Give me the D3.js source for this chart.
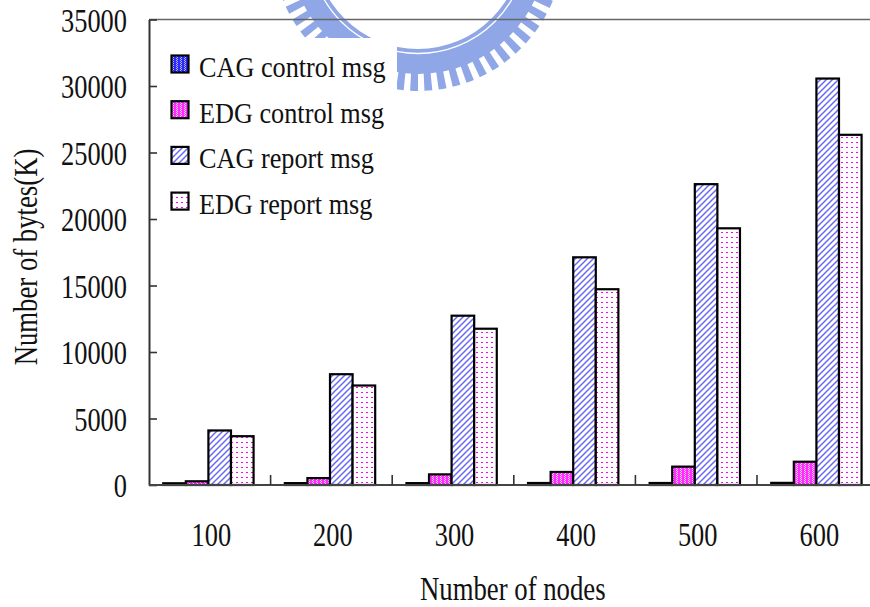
<!DOCTYPE html>
<html>
<head>
<meta charset="utf-8">
<script src="https://cdn.jsdelivr.net/npm/d3@7"></script>
<style>
  html, body { margin: 0; padding: 0; background: #fff; }
  svg { display: block; }
  svg text { font-family: "Liberation Serif", "Times New Roman", serif; fill: #111; }
  pattern rect { shape-rendering: crispEdges; }
</style>
</head>
<body>
<svg id="chart" width="870" height="607"></svg>
<script>
// Message volume per network size
const categories = ["100", "200", "300", "400", "500", "600"];
const seriesNames = ["CAG control msg", "EDG control msg", "CAG report msg", "EDG report msg"];
const cagControl = [130, 140, 140, 150, 150, 160];
const edgControl = [280, 520, 800, 980, 1380, 1750];
const cagReport  = [4100, 8330, 12730, 17120, 22620, 30560];
const edgReport  = [3670, 7480, 11750, 14720, 19300, 26330];
const yTicks = [0, 5000, 10000, 15000, 20000, 25000, 30000, 35000];
const xTitle = "Number of nodes";
const yTitle = "Number of bytes(K)";

const seriesValues = [cagControl, edgControl, cagReport, edgReport];
const patternIds = ["pCagCtrl", "pEdgCtrl", "pCagRep", "pEdgRep"];
const serif = '"Liberation Serif", "Times New Roman", serif';

const svg = d3.select("#chart");
const W = 870;

// ---- fill patterns ----
const defs = svg.append("defs");
// fine checker: base colour with a lighter pixel in every other cell
function checker(id, base, speck) {
  const p = defs.append("pattern").attr("id", id).attr("patternUnits", "userSpaceOnUse")
    .attr("width", 4).attr("height", 4);
  p.append("rect").attr("width", 4).attr("height", 4).attr("fill", base);
  [[0, 0], [2, 0], [1, 1], [3, 1], [0, 2], [2, 2], [1, 3], [3, 3]].forEach(([cx, cy], k) => {
    if (k % 2 === 0) p.append("rect").attr("x", cx).attr("y", cy).attr("width", 1).attr("height", 1).attr("fill", speck);
  });
}
checker("pCagCtrl", "#2a2aff", "#b8b8ff");
checker("pEdgCtrl", "#ff2cff", "#ffd0ff");
{
  const p = defs.append("pattern").attr("id", "pCagRep").attr("patternUnits", "userSpaceOnUse")
    .attr("width", 6).attr("height", 6);
  p.append("rect").attr("width", 6).attr("height", 6).attr("fill", "#fff");
  p.append("path").attr("d", "M-1,7 L7,-1 M-4,4 L4,-4 M2,10 L10,2")
    .attr("stroke", "#6a6af4").attr("stroke-width", 1.5).attr("fill", "none");
}
{
  const p = defs.append("pattern").attr("id", "pEdgRep").attr("patternUnits", "userSpaceOnUse")
    .attr("width", 5).attr("height", 5);
  p.append("rect").attr("width", 5).attr("height", 5).attr("fill", "#fff");
  p.append("rect").attr("x", 1).attr("y", 2).attr("width", 2).attr("height", 1).attr("fill", "#ff00ff");
}

// ---- faint seal printed behind the chart ----
{
  const wm = svg.append("g").attr("transform", "translate(418,-55)");
  const col = "#8fa7e7";
  wm.append("rect").attr("x", -78).attr("y", -60).attr("width", 153).attr("height", 68).attr("fill", col);
  wm.append("text").attr("x", -2).attr("y", 66).attr("text-anchor", "middle")
    .style("font-family", "DejaVu Sans").style("font-weight", "bold").style("font-size", "12px")
    .style("fill", "#fff").text("1896");
  const band = d3.arc();
  wm.append("path").attr("fill", col)
    .attr("d", band({ innerRadius: 104, outerRadius: 129, startAngle: 0, endAngle: 2 * Math.PI }));
  wm.append("circle").attr("r", 108.5).attr("fill", "none").attr("stroke", "#fff").attr("stroke-width", 1.3);
  const nTeeth = 64;
  const teeth = d3.range(nTeeth);
  wm.selectAll("path.tooth").data(teeth).join("path").attr("class", "tooth").attr("fill", col)
    .attr("d", i => band({
      innerRadius: 127, outerRadius: 146,
      startAngle: (i / nTeeth) * 2 * Math.PI,
      endAngle: ((i + 0.55) / nTeeth) * 2 * Math.PI
    }));
}

// ---- scales ----
const x0 = d3.scaleBand().domain(categories).range([149, 878.6]).padding(0);
const x1 = d3.scaleBand().domain(seriesNames)
  .range([x0.bandwidth() * 0.117, x0.bandwidth() * 0.86]);
const y = d3.scaleLinear().domain([0, 35000]).range([485, 19.5]);

// ---- frame ----
svg.append("line").attr("x1", 149).attr("x2", W).attr("y1", y(35000)).attr("y2", y(35000))
  .attr("stroke", "#666").attr("stroke-width", 1.6);

// ---- y axis ----
const yAxis = svg.append("g").attr("transform", "translate(149,0)")
  .call(d3.axisLeft(y).tickValues(yTicks).tickSizeInner(-8).tickSizeOuter(0)
    .tickPadding(22).tickFormat(d3.format("d")));
yAxis.attr("font-family", null);
yAxis.select(".domain").attr("stroke", "#333").attr("stroke-width", 2);
yAxis.selectAll(".tick line").attr("stroke", "#333").attr("stroke-width", 1.6);
yAxis.selectAll(".tick text")
  .attr("x", null).attr("dy", null)
  .attr("transform", "translate(-22,11.5) scale(0.8,1)")
  .attr("text-anchor", "end")
  .style("font-family", serif).style("font-size", "33px").style("fill", "#111");

// ---- bars ----
const barG = svg.append("g");
seriesNames.forEach((name, si) => {
  barG.append("g").selectAll("rect").data(seriesValues[si]).join("rect")
    .attr("x", (d, i) => x0(categories[i]) + x1(name))
    .attr("y", d => y(d))
    .attr("width", x1.bandwidth())
    .attr("height", d => y(0) - y(d))
    .attr("fill", `url(#${patternIds[si]})`)
    .attr("stroke", "#000").attr("stroke-width", 2.2);
});

// ---- x axis ----
const xAxis = svg.append("g").attr("transform", `translate(0,${y(0)})`)
  .call(d3.axisBottom(x0).tickSize(0).tickSizeOuter(0));
xAxis.attr("font-family", null);
xAxis.select(".domain").remove();
xAxis.selectAll(".tick text")
  .attr("y", null).attr("dy", null)
  .attr("transform", "translate(1.5,61) scale(0.8,1)")
  .style("font-family", serif).style("font-size", "33px").style("fill", "#111");
svg.append("line").attr("x1", 149).attr("x2", W).attr("y1", y(0)).attr("y2", y(0))
  .attr("stroke", "#444").attr("stroke-width", 2);
svg.append("g").selectAll("line").data(categories.slice(1)).join("line")
  .attr("x1", d => x0(d)).attr("x2", d => x0(d))
  .attr("y1", y(0)).attr("y2", y(0) - 10)
  .attr("stroke", "#333").attr("stroke-width", 1.6);

// ---- axis titles ----
svg.append("g").attr("transform", `translate(${(149 + 878.6) / 2 - 1},600) scale(0.81,1)`)
  .append("text").attr("text-anchor", "middle")
  .style("font-family", serif).style("font-size", "33px").text(xTitle);
svg.append("g").attr("transform", "translate(37,257) rotate(-90) scale(0.81,1)")
  .append("text").attr("text-anchor", "middle")
  .style("font-family", serif).style("font-size", "33px").text(yTitle);

// ---- legend ----
const legend = svg.append("g");
legend.append("rect").attr("x", 158).attr("y", 38).attr("width", 239).attr("height", 187).attr("fill", "#fff");
seriesNames.forEach((name, i) => {
  const cy = 64 + i * 45.7;
  legend.append("rect").attr("x", 171.5).attr("y", cy - 8.5).attr("width", 17).attr("height", 17)
    .attr("fill", `url(#${patternIds[i]})`).attr("stroke", "#000").attr("stroke-width", 2.2);
  legend.append("g").attr("transform", `translate(199,${cy + 13}) scale(0.875,1)`)
    .append("text").style("font-family", serif).style("font-size", "30px").text(name);
});
</script>
</body>
</html>
